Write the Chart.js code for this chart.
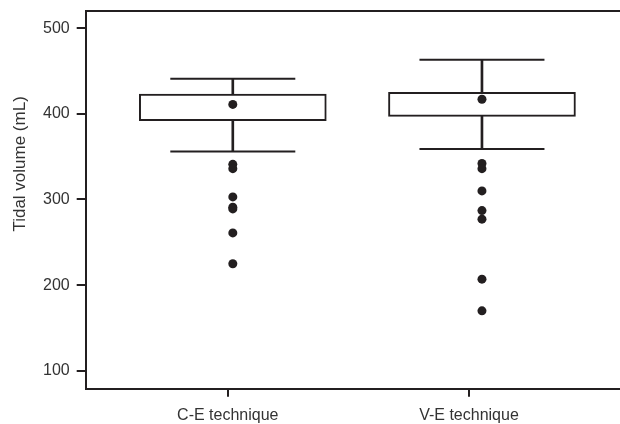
<!DOCTYPE html>
<html>
<head>
<meta charset="utf-8">
<script src="https://cdn.jsdelivr.net/npm/chart.js@4/dist/chart.umd.min.js"></script>
<style>
  html, body { margin: 0; padding: 0; background: #fff; }
  #wrap { width: 620px; height: 424px; }
</style>
</head>
<body>
<div id="wrap"><canvas id="boxChart" width="620" height="424"></canvas></div>
<script>
const categories = ['C-E technique', 'V-E technique'];
const q1 = [392, 397];
const q3 = [423, 425];
const whiskerLow = [356, 359];
const whiskerHigh = [441, 463];
const centre = [411, 417];
const outliersCE = [341, 336, 303, 291, 289, 261, 225];
const outliersVE = [342, 336, 310, 287, 277, 207, 170];
const yTicks = [100, 200, 300, 400, 500];

const ink = '#231f20';
const textCol = '#333333';

// category i sits at x = i + 1 on a linear axis
const at = (arr) => arr.map((v, i) => ({ x: i + 1, y: v }));
const outlierPoints = [
  ...outliersCE.map(v => ({ x: 1, y: v })),
  ...outliersVE.map(v => ({ x: 2, y: v })),
];

// the original's tick marks sit a little left of the boxes
const tickOffsets = [-0.02, -0.052];

const yTitle = {
  id: 'yTitle',
  afterDraw(chart) {
    const { ctx, chartArea } = chart;
    ctx.save();
    ctx.translate(20, (chartArea.top + chartArea.bottom) / 2 - 36);
    ctx.rotate(-Math.PI / 2);
    ctx.font = '17px "Liberation Sans", Arial, sans-serif';
    ctx.fillStyle = textCol;
    ctx.textAlign = 'center';
    ctx.textBaseline = 'middle';
    ctx.fillText('Tidal volume (mL)', 0, 0);
    ctx.restore();
  }
};

const boxData = {
  datasets: [
    {
      type: 'line',
      label: 'centre',
      data: at(centre),
      showLine: false,
      pointRadius: 4.5,
      pointBackgroundColor: ink,
      pointBorderWidth: 0,
      order: 0,
    },
    {
      type: 'line',
      label: 'outliers',
      data: outlierPoints,
      showLine: false,
      pointRadius: 4.5,
      pointBackgroundColor: ink,
      pointBorderWidth: 0,
      order: 0,
    },
    {
      type: 'bar',
      label: 'box',
      data: categories.map((c, i) => ({ x: i + 1, y: [q1[i], q3[i]] })),
      backgroundColor: '#ffffff',
      borderColor: ink,
      borderWidth: 2,
      borderSkipped: false,
      barThickness: 187,
      grouped: false,
      order: 1,
    },
    {
      type: 'bar',
      label: 'stem',
      data: categories.map((c, i) => ({ x: i + 1, y: [whiskerLow[i], whiskerHigh[i]] })),
      backgroundColor: ink,
      borderWidth: 0,
      barThickness: 2,
      grouped: false,
      order: 2,
    },
    {
      type: 'line',
      label: 'capHigh',
      data: at(whiskerHigh),
      showLine: false,
      pointStyle: 'line',
      pointRadius: 62.5,
      pointBorderColor: ink,
      pointBorderWidth: 2,
      order: 2,
    },
    {
      type: 'line',
      label: 'capLow',
      data: at(whiskerLow),
      showLine: false,
      pointStyle: 'line',
      pointRadius: 62.5,
      pointBorderColor: ink,
      pointBorderWidth: 2,
      order: 2,
    },
  ]
};

const boxConfig = {
  type: 'bar',
  data: boxData,
  options: {
    responsive: false,
    animation: false,
    events: [],
    layout: { autoPadding: false, padding: { left: 36, top: 11, right: 0, bottom: -10 } },
    plugins: {
      legend: { display: false },
      title: { display: false },
      tooltip: { enabled: false },
    },
    scales: {
      x: {
        type: 'linear',
        offset: false,
        min: 0.4096,
        max: 2.554,
        afterBuildTicks(scale) {
          scale.ticks = categories.map((c, i) => ({ value: i + 1 + tickOffsets[i] }));
        },
        ticks: {
          color: textCol,
          font: { family: '"Liberation Sans", Arial, sans-serif', size: 16 },
          padding: 9,
          maxRotation: 0,
          autoSkip: false,
          callback: (v, i) => categories[i],
        },
        grid: {
          offset: false,
          drawOnChartArea: false,
          drawTicks: true,
          tickLength: 8,
          color: ink,
          lineWidth: 2,
        },
        border: { display: true, color: ink, width: 2 },
      },
      x2: {
        type: 'linear',
        position: 'top',
        min: 0,
        max: 1,
        ticks: { display: false },
        grid: { display: false, drawTicks: false },
        border: { display: true, color: ink, width: 2 },
      },
      y: {
        min: 79,
        max: 520,
        afterBuildTicks(scale) {
          scale.ticks = yTicks.map(v => ({ value: v }));
        },
        afterFit(scale) {
          scale.paddingTop = 0;
          scale.paddingBottom = 0;
        },
        ticks: {
          color: textCol,
          font: { family: '"Liberation Sans", Arial, sans-serif', size: 16 },
          padding: 7,
        },
        grid: {
          drawOnChartArea: false,
          drawTicks: true,
          tickLength: 9,
          color: ink,
          lineWidth: 2,
        },
        border: { display: true, color: ink, width: 2 },
      },
    },
  },
  plugins: [yTitle],
};

const boxChart = new Chart(document.getElementById('boxChart').getContext('2d'), boxConfig);
</script>
</body>
</html>
